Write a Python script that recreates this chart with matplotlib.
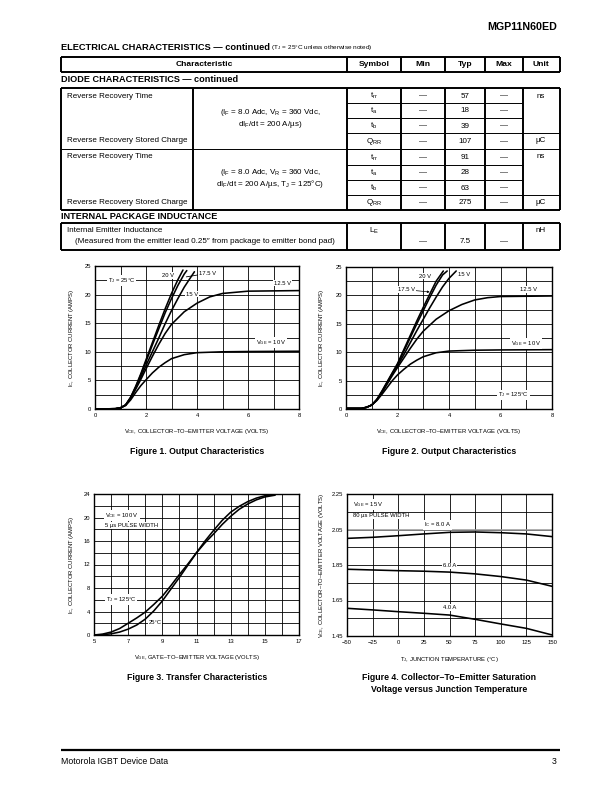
"""Datasheet page 3 of MGP11N60ED: diode table and four characteristic plots"""
import matplotlib
matplotlib.use('Agg')
import matplotlib.pyplot as plt
from matplotlib.ticker import MultipleLocator, FixedLocator, FormatStrFormatter

plt.rcParams['font.family'] = ['Liberation Sans', 'DejaVu Sans']
plt.rcParams['mathtext.fontset'] = 'custom'
plt.rcParams['mathtext.rm'] = 'Liberation Sans'
plt.rcParams['mathtext.it'] = 'Liberation Sans'

W, H = 612, 792

# ---- table data
HEADERS = ['Characteristic', 'Symbol', 'Min', 'Typ', 'Max', 'Unit']
SYMBOLS = [r'$\mathregular{t_{rr}}$', r'$\mathregular{t_a}$', r'$\mathregular{t_b}$', r'$\mathregular{Q_{RR}}$'] * 2
MIN_VALS = ['—'] * 8
TYP_VALS = ['57', '18', '39', '107', '91', '28', '63', '275']
MAX_VALS = ['—'] * 8
UNITS = ['ns', 'µC', 'ns', 'µC']
CHARACTERISTICS = ['Reverse Recovery Time', 'Reverse Recovery Stored Charge'] * 2
CONDITIONS = [[r'($\mathregular{I_F}$ = 8.0 Adc, $\mathregular{V_R}$ = 360 Vdc,',
               r'd$\mathregular{I_F}$/dt = 200 A/µs)'],
              [r'($\mathregular{I_F}$ = 8.0 Adc, $\mathregular{V_R}$ = 360 Vdc,',
               r'd$\mathregular{I_F}$/dt = 200 A/µs, $\mathregular{T_J}$ = 125°C)']]
LE_ROW = ['Internal Emitter Inductance',
          '(Measured from the emitter lead 0.25″ from package to emitter bond pad)',
          r'$\mathregular{L_E}$', '—', '7.5', '—', 'nH']

# ---- Figure 1: output characteristics, TJ = 25 C
f1_v20_x = [0, 0.8, 1.0, 1.2, 1.4, 1.6, 1.8, 2.0, 2.25, 2.5, 2.75, 3.0, 3.25, 3.45]
f1_v20_y = [0, 0.05, 0.2, 0.7, 2.1, 4.0, 6.2, 8.6, 11.6, 14.6, 17.5, 20.2, 22.6, 24.3]
f1_v175_x = [0, 0.8, 1.0, 1.2, 1.4, 1.6, 1.8, 2.0, 2.25, 2.5, 2.75, 3.0, 3.25, 3.5, 3.6]
f1_v175_y = [0, 0.05, 0.2, 0.7, 2.0, 3.9, 6.0, 8.3, 11.2, 14.0, 16.8, 19.3, 21.6, 23.6, 24.2]
f1_v15_x = [0, 0.8, 1.0, 1.2, 1.4, 1.6, 1.8, 2.0, 2.25, 2.5, 2.75, 3.0, 3.25, 3.5, 3.75, 3.9]
f1_v15_y = [0, 0.05, 0.2, 0.7, 1.9, 3.7, 5.6, 7.6, 10.0, 12.4, 14.9, 17.2, 19.3, 21.3, 23.0, 24.0]
f1_v125_x = [0, 0.8, 1.0, 1.2, 1.4, 1.6, 1.8, 2.0, 2.25, 2.5, 2.75, 3.0, 3.5, 4.0, 4.5, 5.0, 6.0, 8.0]
f1_v125_y = [0, 0.05, 0.2, 0.7, 1.9, 3.5, 5.2, 7.0, 9.2, 11.3, 13.2, 14.8, 17.0, 18.5, 19.6, 20.2, 20.6, 20.7]
f1_v10_x = [0, 0.8, 1.0, 1.2, 1.4, 1.6, 1.8, 2.0, 2.25, 2.5, 2.75, 3.0, 3.5, 4.0, 5.0, 6.0, 8.0]
f1_v10_y = [0, 0.05, 0.2, 0.6, 1.6, 2.9, 4.1, 5.1, 6.3, 7.3, 8.1, 8.8, 9.5, 9.85, 10.0, 10.05, 10.1]

# ---- Figure 2: output characteristics, TJ = 125 C
f2_v20_x = [0, 0.6, 0.8, 1.0, 1.2, 1.4, 1.6, 1.8, 2.0, 2.25, 2.5, 2.75, 3.0, 3.25, 3.5, 3.78]
f2_v20_y = [0.1, 0.1, 0.3, 0.7, 1.7, 3.2, 4.8, 6.4, 8.0, 10.5, 13.0, 15.5, 17.9, 20.2, 22.5, 24.3]
f2_v175_x = [0, 0.6, 0.8, 1.0, 1.2, 1.4, 1.6, 1.8, 2.0, 2.25, 2.5, 2.75, 3.0, 3.25, 3.5, 3.75, 3.93]
f2_v175_y = [0.1, 0.1, 0.3, 0.7, 1.7, 3.1, 4.7, 6.3, 7.8, 10.2, 12.6, 15.0, 17.3, 19.6, 21.8, 23.6, 24.3]
f2_v15_x = [0, 0.6, 0.8, 1.0, 1.2, 1.4, 1.6, 1.8, 2.0, 2.25, 2.5, 2.75, 3.0, 3.25, 3.5, 3.75, 4.0, 4.28]
f2_v15_y = [0.1, 0.1, 0.3, 0.7, 1.6, 3.0, 4.6, 6.1, 7.6, 9.6, 11.7, 13.8, 15.8, 17.8, 19.7, 21.5, 23.0, 24.3]
f2_v125_x = [0, 0.6, 0.8, 1.0, 1.2, 1.4, 1.6, 1.8, 2.0, 2.25, 2.5, 2.75, 3.0, 3.5, 4.0, 4.5, 5.0, 5.5, 6.0, 8.0]
f2_v125_y = [0.1, 0.1, 0.3, 0.7, 1.6, 2.9, 4.4, 5.9, 7.3, 9.0, 10.7, 12.3, 13.7, 15.8, 17.3, 18.4, 19.2, 19.6, 19.8, 19.9]
f2_v10_x = [0, 0.6, 0.8, 1.0, 1.2, 1.4, 1.6, 1.8, 2.0, 2.25, 2.5, 2.75, 3.0, 3.5, 4.0, 5.0, 6.0, 8.0]
f2_v10_y = [0.1, 0.1, 0.3, 0.7, 1.5, 2.6, 3.8, 5.0, 6.0, 7.0, 7.9, 8.6, 9.2, 9.9, 10.2, 10.35, 10.4, 10.45]

# ---- Figure 3: transfer characteristics
f3_vge = [5, 5.5, 6, 6.5, 7, 7.5, 8, 8.5, 9, 9.5, 10, 10.5, 11, 11.5, 12, 12.5, 13, 13.5, 14, 14.5, 15, 15.6]
f3_ic_125 = [0, 0.15, 0.5, 1.1, 2.0, 2.9, 3.9, 5.2, 6.6, 8.4, 10.3, 12.1, 14.0, 15.7, 17.2, 18.8, 20.2, 21.4, 22.3, 23.0, 23.5, 23.8]
f3_ic_25 = [0, 0.05, 0.2, 0.5, 1.0, 1.7, 2.7, 4.1, 5.8, 7.8, 9.8, 11.9, 14.0, 16.0, 17.8, 19.5, 20.9, 21.9, 22.7, 23.3, 23.7, 23.9]

# ---- Figure 4: saturation voltage vs junction temperature
f4_tj = [-50, -25, 0, 25, 50, 75, 100, 125, 150]
f4_vce_8a = [2.000, 2.006, 2.015, 2.025, 2.034, 2.036, 2.032, 2.025, 2.010]
f4_vce_6a = [1.826, 1.822, 1.818, 1.815, 1.810, 1.800, 1.785, 1.765, 1.730]
f4_vce_4a = [1.606, 1.597, 1.587, 1.578, 1.568, 1.544, 1.518, 1.493, 1.456]

fig = plt.figure(figsize=(W / 100, H / 100), dpi=100)
page = fig.add_axes([0, 0, 1, 1])
page.set_xlim(0, W)
page.set_ylim(H, 0)
page.axis('off')

BODY = 5.8
THICK = 1.4
THIN = 0.7


def pt(x, y, s, size=BODY, **kw):
    kw.setdefault('va', 'center')
    page.text(x, y, s, fontsize=size, **kw)


def hline(y, x0, x1, lw=THIN):
    page.plot([x0, x1], [y, y], color='black', lw=lw, solid_capstyle='butt')


def vline(x, y0, y1, lw=THICK):
    page.plot([x, x], [y0, y1], color='black', lw=lw, solid_capstyle='butt')


# page header / footer
pt(557, 27, 'MGP11N60ED', size=7.7, ha='right', fontweight='heavy')
hline(750, 61, 560, lw=1.6)
pt(61, 762, 'Motorola IGBT Device Data', size=6.3)
pt(557, 762, '3', size=6.3, ha='right')

# table title
t1 = page.text(61, 52, 'ELECTRICAL CHARACTERISTICS — continued', fontsize=6.7,
               fontweight='bold', va='bottom')
page.annotate(r' ($\mathregular{T_J}$ = 25°C unless otherwise noted)', xy=(1, 0), xycoords=t1,
              va='bottom', ha='left', fontsize=4.6)

COL_X = [61, 347, 401, 445, 485, 523, 560]
COL_C = [204, 374, 423, 465, 504, 541]

# header row
hline(57, 61, 560, lw=THICK)
hline(72, 61, 560, lw=THICK)
for x in COL_X:
    vline(x, 57, 72)
for cx, name in zip(COL_C, HEADERS):
    pt(cx, 64.5, name, size=6.1, ha='center', fontweight='bold')

# diode section
pt(61, 80, 'DIODE CHARACTERISTICS — continued', size=6.6, fontweight='bold')
ROW_Y = [88, 103, 118, 133, 149, 165, 180, 195, 210]
hline(88, 61, 560, lw=THICK)
hline(210, 61, 560, lw=THICK)
hline(149, 61, 560)
for y in ROW_Y[1:-1]:
    hline(y, 347, 523)
hline(133, 523, 560)
hline(195, 523, 560)
for x in [61, 193] + COL_X[1:]:
    vline(x, 88, 210)

char_y = [96, 141, 157, 203]
for y, s in zip(char_y, CHARACTERISTICS):
    pt(67, y, s)
for g, lines in enumerate(CONDITIONS):
    base = [113, 173][g]
    for k, s in enumerate(lines):
        pt(270, base + k * 11.5, s, ha='center')
for i in range(8):
    yc = (ROW_Y[i] + ROW_Y[i + 1]) / 2 + 0.5
    pt(COL_C[1], yc, SYMBOLS[i], ha='center')
    pt(COL_C[2], yc, MIN_VALS[i], ha='center')
    pt(COL_C[3], yc, TYP_VALS[i], ha='center')
    pt(COL_C[4], yc, MAX_VALS[i], ha='center')
for y, s in zip(char_y, UNITS):
    pt(COL_C[5], y, s, ha='center')

# internal package inductance
pt(61, 216.5, 'INTERNAL PACKAGE INDUCTANCE', size=6.6, fontweight='bold')
hline(223, 61, 560, lw=THICK)
hline(250, 61, 560, lw=THICK)
for x in COL_X:
    vline(x, 223, 250)
pt(67, 231, LE_ROW[0])
pt(75, 241.5, LE_ROW[1])
pt(COL_C[1], 231, LE_ROW[2], ha='center')
for cx, s in zip(COL_C[2:5], LE_ROW[3:6]):
    pt(cx, 241.5, s, ha='center')
pt(COL_C[5], 231, LE_ROW[6], ha='center')

SMALL = 4.2
CURVE = dict(color='black', lw=1.15, solid_capstyle='round')
LBL = dict(fontsize=SMALL, ha='center', va='center',
           bbox=dict(facecolor='white', edgecolor='none', pad=0.6))


def chart(x0, x1, y0, y1, xlim, ylim, xlabel, ylabel, ylab_x, xlab_y):
    ax = fig.add_axes([x0 / W, 1 - y1 / H, (x1 - x0) / W, (y1 - y0) / H])
    ax.set_xlim(*xlim)
    ax.set_ylim(*ylim)
    for s in ax.spines.values():
        s.set_linewidth(1.0)
    ax.tick_params(which='both', length=0, pad=3, labelsize=SMALL)
    ax.grid(True, which='both', color='black', lw=0.6)
    ax.set_axisbelow(True)
    ax.set_xlabel(xlabel, fontsize=SMALL, va='center')
    ax.set_ylabel(ylabel, fontsize=SMALL, va='center')
    ax.xaxis.set_label_coords(0.5, -(xlab_y - y1) / (y1 - y0))
    ax.yaxis.set_label_coords(-(x0 - ylab_x) / (x1 - x0), 0.5)
    return ax


def caption(cx, y, s):
    pt(cx, y, s, size=6.3, ha='center', fontweight='bold')


VCE_LABEL = r'$\mathregular{V_{CE}}$, COLLECTOR–TO–EMITTER VOLTAGE (VOLTS)'
IC_LABEL = r'$\mathregular{I_C}$, COLLECTOR CURRENT (AMPS)'

# Figure 1
ax1 = chart(95, 299, 266, 409, (0, 8), (0, 25), VCE_LABEL, IC_LABEL, 72, 431)
ax1.xaxis.set_major_locator(MultipleLocator(2))
ax1.xaxis.set_minor_locator(MultipleLocator(1))
ax1.yaxis.set_major_locator(MultipleLocator(5))
ax1.yaxis.set_minor_locator(MultipleLocator(2.5))
for xs, ys in [(f1_v20_x, f1_v20_y), (f1_v175_x, f1_v175_y), (f1_v15_x, f1_v15_y),
               (f1_v125_x, f1_v125_y), (f1_v10_x, f1_v10_y)]:
    ax1.plot(xs, ys, **CURVE)
ax1.text(1.05, 22.5, r'$\mathregular{T_J}$ = 25°C', **LBL)
ax1.text(2.85, 23.3, '20 V', **LBL)
ax1.annotate('17.5 V', xy=(3.58, 23.1), xytext=(4.4, 23.7), fontsize=SMALL, ha='center', va='center',
             bbox=dict(facecolor='white', edgecolor='none', pad=0.6),
             arrowprops=dict(arrowstyle='-', color='black', lw=0.6, shrinkA=0, shrinkB=0))
ax1.text(3.8, 20.1, '15 V', **LBL)
ax1.text(7.35, 22.0, '12.5 V', **LBL)
ax1.text(6.9, 11.6, r'$\mathregular{V_{GE}}$ = 10 V', **LBL)
caption(197, 451, 'Figure 1. Output Characteristics')

# Figure 2
ax2 = chart(346, 552, 267, 409, (0, 8), (0, 25), VCE_LABEL, IC_LABEL, 322, 431)
ax2.xaxis.set_major_locator(MultipleLocator(2))
ax2.xaxis.set_minor_locator(MultipleLocator(1))
ax2.yaxis.set_major_locator(MultipleLocator(5))
ax2.yaxis.set_minor_locator(MultipleLocator(2.5))
for xs, ys in [(f2_v20_x, f2_v20_y), (f2_v175_x, f2_v175_y), (f2_v15_x, f2_v15_y),
               (f2_v125_x, f2_v125_y), (f2_v10_x, f2_v10_y)]:
    ax2.plot(xs, ys, **CURVE)
ax2.text(3.07, 23.4, '20 V', **LBL)
ax2.annotate('17.5 V', xy=(3.25, 20.6), xytext=(2.35, 21.0), fontsize=SMALL, ha='center', va='center',
             bbox=dict(facecolor='white', edgecolor='none', pad=0.6),
             arrowprops=dict(arrowstyle='-|>', color='black', lw=0.5, mutation_scale=3,
                             shrinkA=0, shrinkB=0))
ax2.text(4.6, 23.6, '15 V', **LBL)
ax2.text(7.1, 21.0, '12.5 V', **LBL)
ax2.text(7.0, 11.5, r'$\mathregular{V_{GE}}$ = 10 V', **LBL)
ax2.text(6.5, 2.5, r'$\mathregular{T_J}$ = 125°C', **LBL)
caption(449, 451, 'Figure 2. Output Characteristics')

# Figure 3
ax3 = chart(94, 299, 494, 635, (5, 17), (0, 24),
            r'$\mathregular{V_{GE}}$, GATE–TO–EMITTER VOLTAGE (VOLTS)', IC_LABEL, 71, 658)
ax3.xaxis.set_major_locator(FixedLocator([5, 7, 9, 11, 13, 15, 17]))
ax3.xaxis.set_minor_locator(FixedLocator([6, 8, 10, 12, 14, 16]))
ax3.yaxis.set_major_locator(MultipleLocator(4))
ax3.yaxis.set_minor_locator(MultipleLocator(2))
ax3.plot(f3_vge, f3_ic_125, **CURVE)
ax3.plot(f3_vge, f3_ic_25, **CURVE)
L3 = dict(LBL, ha='left')
ax3.text(5.65, 20.3, r'$\mathregular{V_{CE}}$ = 100 V', **L3)
ax3.text(5.65, 18.6, '5 µs PULSE WIDTH', **L3)
ax3.text(5.7, 6.0, r'$\mathregular{T_J}$ = 125°C', **L3)
ax3.text(8.2, 2.2, '25°C', **L3)
caption(197, 678, 'Figure 3. Transfer Characteristics')

# Figure 4
ax4 = chart(347, 552, 494, 636, (-50, 150), (1.45, 2.25),
            r'$\mathregular{T_J}$, JUNCTION TEMPERATURE (°C)',
            r'$\mathregular{V_{CE}}$, COLLECTOR–TO–EMITTER VOLTAGE (VOLTS)', 321, 659)
ax4.xaxis.set_major_locator(MultipleLocator(25))
ax4.yaxis.set_major_locator(FixedLocator([1.45, 1.65, 1.85, 2.05, 2.25]))
ax4.yaxis.set_minor_locator(FixedLocator([1.55, 1.75, 1.95, 2.15]))
ax4.yaxis.set_major_formatter(FormatStrFormatter('%.2f'))
ax4.axhline(2.05, color='0.6', lw=1.1, zorder=1.5)
ax4.plot(f4_tj, f4_vce_8a, **CURVE)
ax4.plot(f4_tj, f4_vce_6a, **CURVE)
ax4.plot(f4_tj, f4_vce_4a, **CURVE)
L4 = dict(LBL, ha='left')
ax4.text(-44, 2.19, r'$\mathregular{V_{GE}}$ = 15 V', **L4)
ax4.text(-44, 2.127, '80 µs PULSE WIDTH', **L4)
ax4.text(38, 2.076, r'$\mathregular{I_C}$ = 8.0 A', **LBL)
ax4.text(50, 1.845, '6.0 A', **LBL)
ax4.text(50, 1.61, '4.0 A', **LBL)
caption(449, 678, 'Figure 4. Collector–To–Emitter Saturation')
caption(449, 690, 'Voltage versus Junction Temperature')

fig.savefig('out.png', dpi=100)
